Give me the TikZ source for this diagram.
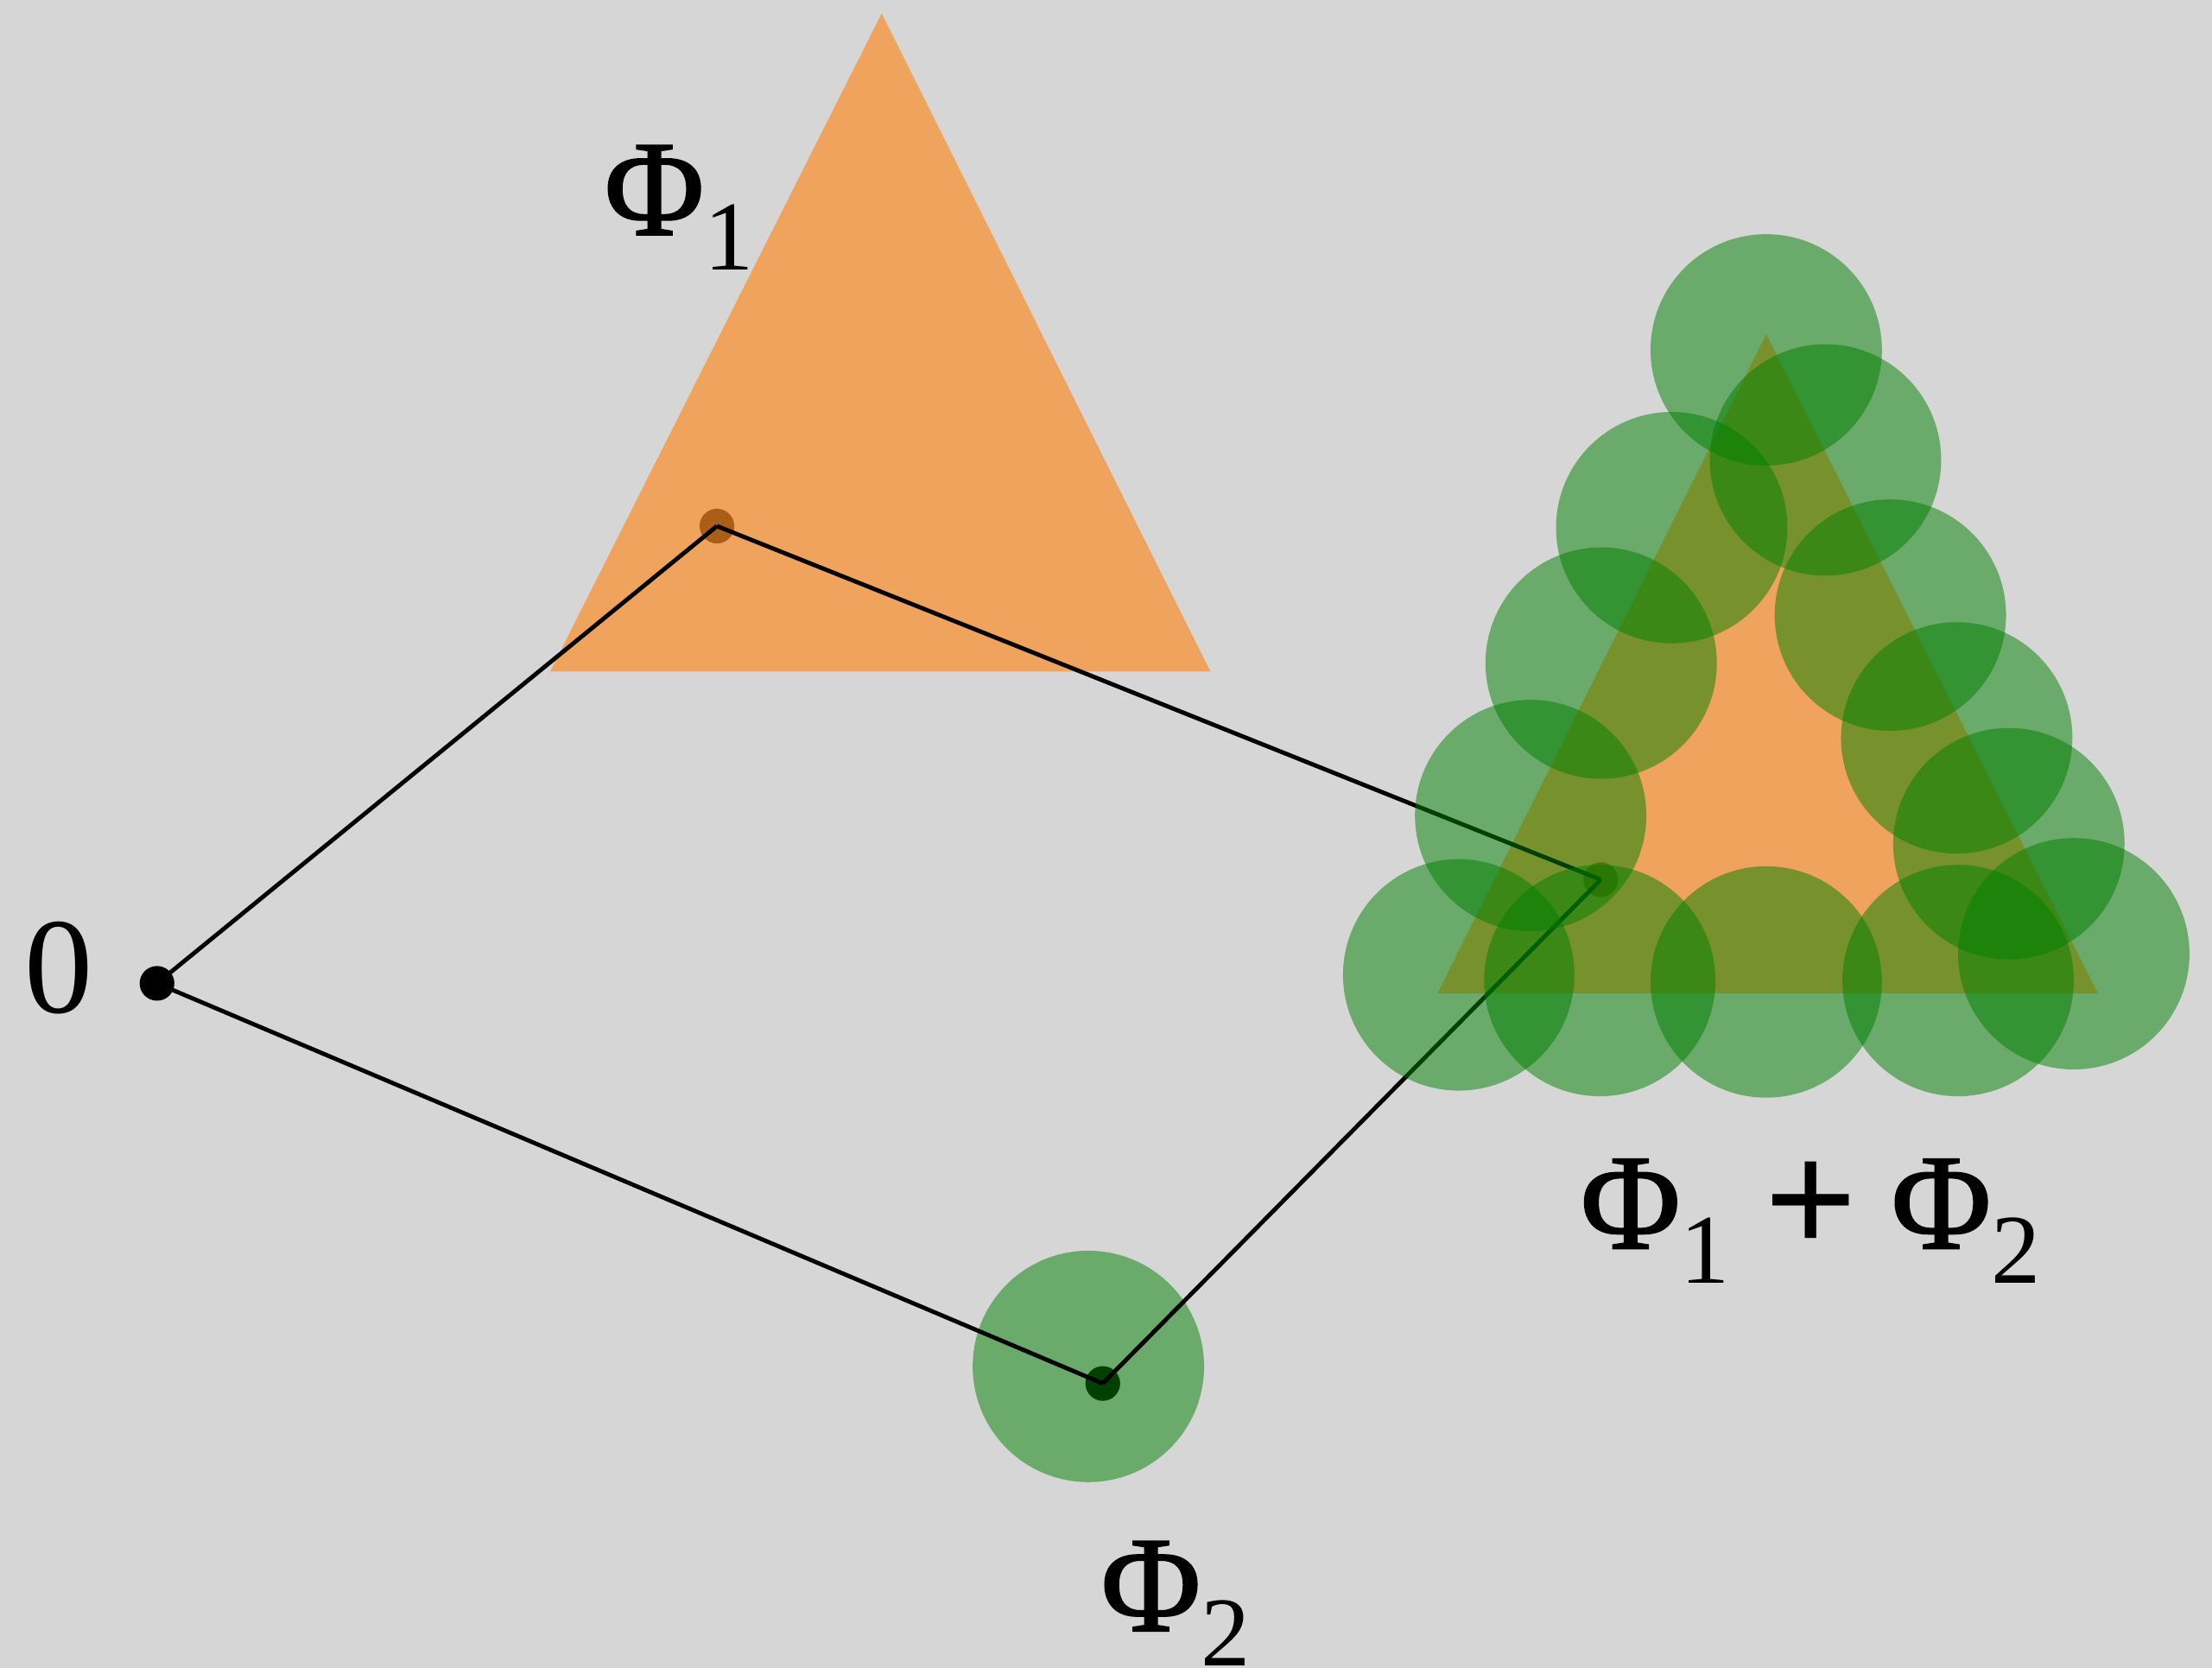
\documentclass[tikz,border=0pt]{standalone}
\usepackage{fontspec}
\setmainfont{Liberation Serif}
\newfontfamily\phifont[FakeBold=1.2]{Liberation Serif}
\definecolor{bg}{RGB}{214,214,214}
\definecolor{orng}{RGB}{253,140,35}
\definecolor{grn}{RGB}{0,128,0}
\newcommand\mysub[1]{\raisebox{-12.3pt}{\fontsize{35}{35}\selectfont #1}}
\newcommand\myphi{{\phifont Φ}}
\tikzset{
  dotnode/.style={circle,fill=black,inner sep=0pt,minimum size=12.3pt},
  orangeshape/.style={fill=orng,fill opacity=0.68,draw=none},
  greendisc/.style={fill=grn,fill opacity=0.5,draw=none},
  seg/.style={draw=black,line width=1.5pt},
  lbl/.style={inner sep=0pt,anchor=base west,font=\fontsize{48.5}{50}\selectfont}
}
\begin{document}
\begin{tikzpicture}[x=0.5pt,y=-0.5pt]
\fill[bg] (0,0) rectangle (1568,1182);
\useasboundingbox (0,0) rectangle (1568,1182);
% points (under the shapes)
\node[dotnode] (o) at (111.3,697) {};
\node[dotnode] (p1) at (508.2,372.9) {};
\node[dotnode] (p2) at (781.7,980.6) {};
\node[dotnode] (ps) at (1134.7,623.5) {};
% Phi_1 and Phi_2
\fill[orangeshape] (625,9.5) -- (390,476) -- (858,476) -- cycle;
\fill[greendisc] (771.5,968.5) circle[radius=82];
% sum triangle
\fill[orangeshape] (1252,237) -- (1019,704) -- (1487,704) -- cycle;
% connectors
\draw[seg] (o.center) -- (p1.center);
\draw[seg] (p1.center) -- (ps.center);
\draw[seg] (o.center) -- (p2.center);
\draw[seg] (p2.center) -- (ps.center);
% discs of the sum
\foreach \cx/\cy in {1252/248,1294/326,1185/374,1340/436,1135/470,1387/523,1085/578,1424/598,1034/691,1134/695,1252/696,1388/695,1470/676}
  \fill[greendisc] (\cx,\cy) circle[radius=82];
% labels
\node[lbl] (l0) at (17,718) {0};
\node[lbl] (l1) at (428,166.5) {\myphi\mysub{1}};
\node[lbl] (l2) at (780,1156) {\myphi\mysub{2}};
\node[lbl] (l3) at (1120,885) {\myphi\mysub{1}\hspace{12pt}\raisebox{-2pt}{\scalebox{1.2}{\textbf{+}}}\hspace{12pt}\myphi\mysub{2}};
\end{tikzpicture}
\end{document}
